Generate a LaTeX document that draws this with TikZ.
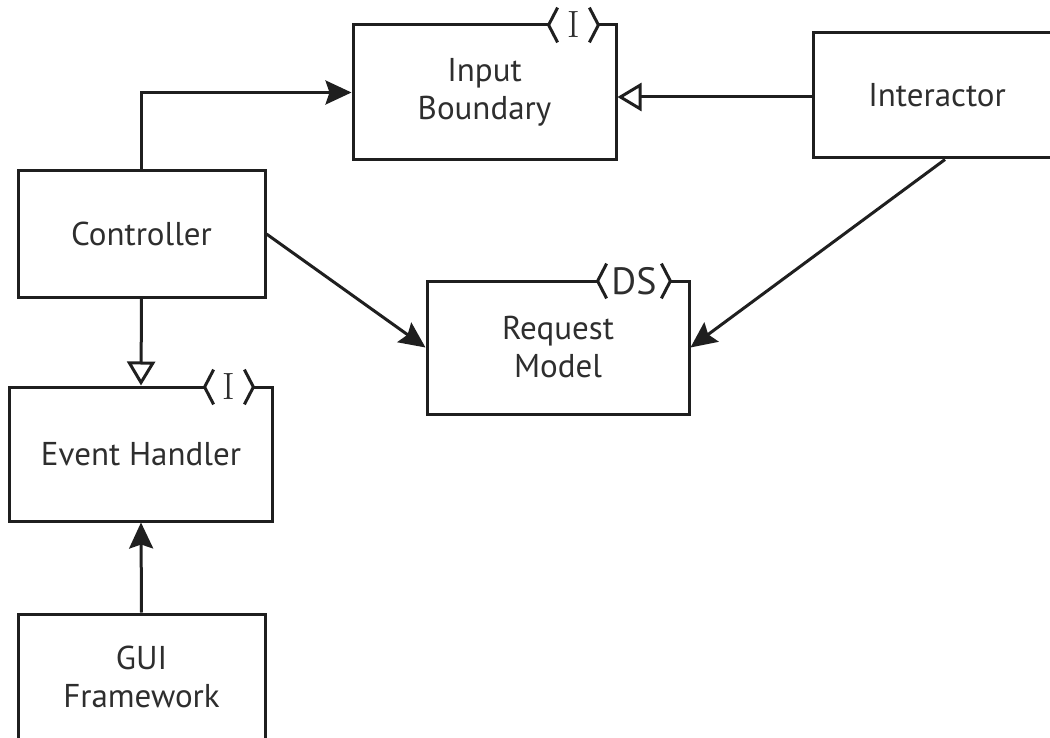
\documentclass[tikz,border=0pt]{standalone}
\usepackage{fontspec}
\setmainfont{PT Sans}
\newfontfamily\serifI{Latin Modern Roman}
\usetikzlibrary{arrows.meta}
\colorlet{lcol}{black!88}
\colorlet{tcol}{black!82}
\tikzstyle{box}=[draw=lcol, line width=1.5pt, inner sep=0pt, align=center, text=tcol, font=\fontsize{16.5}{19}\selectfont]
\tikzstyle{stereo}=[fill=white, inner sep=0pt, minimum height=17pt, text=tcol, font=\fontsize{19}{19}\selectfont]
\tikzstyle{chev}=[lcol, line width=1.5pt]
\tikzstyle{uses}=[lcol, line width=1.5pt, -{Stealth[length=13pt, width=12pt, inset=2pt]}]
\tikzstyle{inherits}=[lcol, line width=1.5pt, -{Triangle[open, length=12pt, width=14pt]}]

\begin{document}
\begin{tikzpicture}[x=0.5pt, y=-0.5pt]
	\useasboundingbox (0,0) rectangle (1050,738);
	\clip (0,0) rectangle (1050,738);
	% boxes (pixel coordinates of the sketch)
	\node[box, minimum width=131.5pt, minimum height=67.5pt] (ib)    at (484.5, 92.5) {Input\\Boundary};
	\node[box, minimum width=124pt,   minimum height=62.5pt] (inter) at (937, 95.5)   {Interactor};
	\node[box, minimum width=123.5pt, minimum height=63pt]   (ctrl)  at (141.5, 234)  {Controller};
	\node[box, minimum width=131pt,   minimum height=66.5pt] (rm)    at (558, 347.5)  {Request\\Model};
	\node[box, minimum width=131.5pt, minimum height=67pt]   (eh)    at (141, 454)    {Event Handler};
	\node[box, minimum width=123.5pt, minimum height=63pt]   (gui)   at (141.5, 677)  {GUI\\Framework};

	%%% Stereotypes
	\node[stereo, minimum width=24.5pt] (ibS) at (573.5, 25)  {\serifI I};
	\node[stereo, minimum width=36pt]   (rmS) at (634, 281)   {DS};
	\node[stereo, minimum width=24pt]   (ehS) at (229, 387)   {\serifI I};
	\foreach \s in {ibS, rmS, ehS} {
		\draw[chev] ([xshift=4.5pt]\s.north west) -- (\s.west) -- ([xshift=4.5pt]\s.south west);
		\draw[chev] ([xshift=-4.5pt]\s.north east) -- (\s.east) -- ([xshift=-4.5pt]\s.south east);
	}

	%%% Connectors
	\draw[uses] (ctrl.north) |- (ib.west);
	\draw[inherits] ([yshift=-0.75pt]inter.west) -- ([yshift=-0.75pt]inter.west -| ib.east);
	\draw[uses] (ctrl.east) -- (rm.west);
	\draw[uses] ([xshift=4pt]inter.south) -- (rm.east);
	\draw[inherits] (ctrl.south) -- (eh.north);
	\draw[uses] (gui.north) -- (eh.south);
\end{tikzpicture}
\end{document}
